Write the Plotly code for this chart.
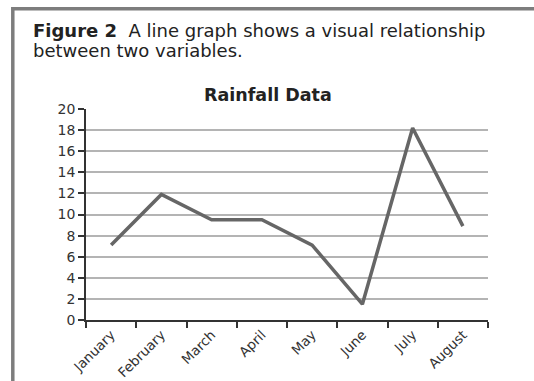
import plotly.graph_objects as go

# Monthly rainfall values
months = ["January", "February", "March", "April", "May", "June", "July", "August"]
rainfall = [7.1, 11.9, 9.5, 9.5, 7.1, 1.5, 18.2, 8.9]
y_ticks = list(range(0, 21, 2))

W, H = 534, 381
L, R, T, B = 86, 46, 109, 61
pw, ph = W - L - R, H - T - B


def px(x):
    return (x - L) / pw


def py(y):
    return (H - B - y) / ph


fig = go.Figure()
fig.add_trace(go.Scatter(
    x=months, y=rainfall, mode="lines",
    line=dict(color="#666666", width=3.5),
    hoverinfo="skip", showlegend=False,
))

font = "DejaVu Sans, Open Sans, sans-serif"

fig.update_layout(
    width=W, height=H,
    margin=dict(l=L, r=R, t=T, b=B, pad=0),
    paper_bgcolor="white", plot_bgcolor="white",
    font=dict(family=font, color="#2a2a2a"),
    xaxis=dict(
        type="category", range=[-0.5, len(months) - 0.5], automargin=False,
        tickson="boundaries", ticks="outside", ticklen=6, tickwidth=1.5, tickcolor="#333",
        showline=True, linecolor="#333", linewidth=1.5, showgrid=False,
        tickangle=-45, tickfont=dict(size=13.5, color="#333"),
        fixedrange=True,
    ),
    yaxis=dict(
        range=[0, 20], tickvals=y_ticks, ticks="outside", ticklen=6, tickwidth=1.5,
        tickcolor="#333", showline=True, linecolor="#333", linewidth=1.5, automargin=False,
        showgrid=True, gridcolor="#b4b4b4", gridwidth=1.5, zeroline=False,
        tickfont=dict(size=14, color="#333"), fixedrange=True,
    ),
)

# Caption (two lines) and chart title
fig.add_annotation(
    xref="paper", yref="paper", x=px(31), y=py(30), xanchor="left", yanchor="middle",
    showarrow=False,
    text="<b>Figure 2</b>  A line graph shows a visual relationship",
    font=dict(size=18, color="#222"),
)
fig.add_annotation(
    xref="paper", yref="paper", x=px(31), y=py(50), xanchor="left", yanchor="middle",
    showarrow=False, text="between two variables.",
    font=dict(size=18, color="#222"),
)
fig.add_annotation(
    xref="paper", yref="paper", x=px(268), y=py(95), xanchor="center", yanchor="middle",
    showarrow=False, text="<b>Rainfall Data</b>", font=dict(size=17.5, color="#222"),
)

# Frame lines along the top and left edges
frame = dict(color="#7d7d7d", width=3.5)
fig.add_shape(type="line", xref="paper", yref="paper",
              x0=px(11.5), x1=px(W), y0=py(8.8), y1=py(8.8), line=frame)
fig.add_shape(type="line", xref="paper", yref="paper",
              x0=px(12.8), x1=px(12.8), y0=py(7), y1=py(H), line=frame)

fig.write_html("out.html", config={"displayModeBar": False})
